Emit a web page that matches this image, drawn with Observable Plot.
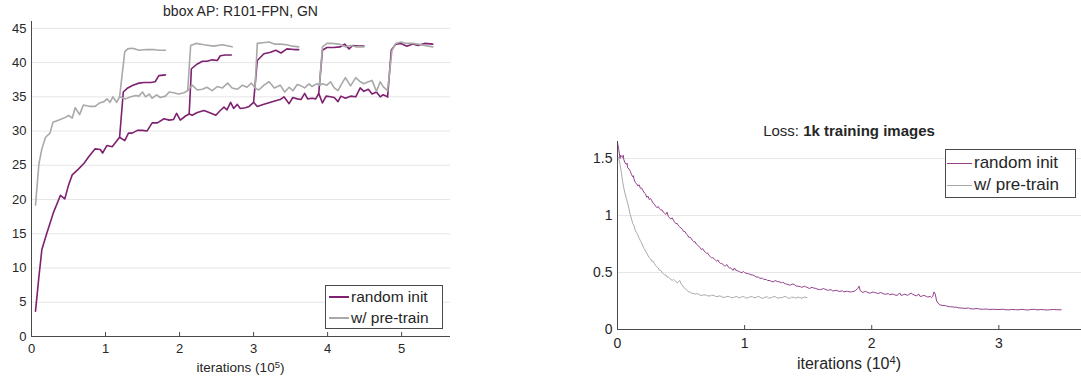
<!DOCTYPE html>
<html><head><meta charset="utf-8">
<script src="https://cdn.jsdelivr.net/npm/d3@7"></script>
<script src="https://cdn.jsdelivr.net/npm/@observablehq/plot@0.6"></script>
<style>
body{margin:0;background:#fff;}
#wrap{position:relative;width:1081px;height:380px;font-family:"Liberation Sans",Arial,sans-serif;color:#262626;overflow:hidden;background:#fff}
.abs{position:absolute;white-space:nowrap;line-height:1}
sup{font-size:0.7em;line-height:0;vertical-align:0.45em}
</style></head><body><div id="wrap"></div>
<script>
// ---------- Left panel: bbox AP (iterations ×10^5) ----------
const apYTicks = [0,5,10,15,20,25,30,35,40,45];
const apXTicks = [0,1,2,3,4,5];
const seriesNames = ["random init","w/ pre-train"];

const randomMain = [[0.054,3.7],[0.10,8.7],[0.14,12.7],[0.21,15.2],[0.30,18.2],[0.39,20.6],[0.45,20.1],[0.50,22.1],[0.55,23.6],[0.63,24.4],[0.71,25.3],[0.77,26.2],[0.86,27.4],[0.93,27.3],[0.96,26.8],[1.02,27.9],[1.09,27.7],[1.19,29.1],[1.26,28.6],[1.31,29.7],[1.36,29.7],[1.43,30.1],[1.50,30.1],[1.56,30.0],[1.63,31.2],[1.70,31.2],[1.79,31.8],[1.86,31.6],[1.92,31.7],[1.96,32.6],[2.01,31.6],[2.08,32.2],[2.13,32.5],[2.17,32.3],[2.24,32.7],[2.33,33.0],[2.40,32.7],[2.49,32.3],[2.55,33.0],[2.60,33.5],[2.64,33.1],[2.69,34.2],[2.73,33.3],[2.78,33.9],[2.82,33.3],[2.89,33.4],[2.94,33.6],[3.00,34.2],[3.05,33.6],[3.14,33.9],[3.23,34.2],[3.32,34.5],[3.36,34.6],[3.41,35.0],[3.48,34.0],[3.53,34.9],[3.59,34.7],[3.64,34.6],[3.69,35.5],[3.73,34.7],[3.79,34.8],[3.84,34.7],[3.88,35.5],[3.93,34.1],[3.98,35.1],[4.04,35.0],[4.09,34.9],[4.14,34.3],[4.18,35.1],[4.24,34.8],[4.31,35.1],[4.38,35.0],[4.44,36.3],[4.49,35.8],[4.55,36.1],[4.60,35.4],[4.66,35.7],[4.71,35.0],[4.75,35.3],[4.81,35.0]];
const randomB1 = [[1.19,29.1],[1.24,35.7],[1.30,36.3],[1.37,36.7],[1.45,37.0],[1.52,37.1],[1.61,37.1],[1.67,37.2],[1.72,38.1],[1.81,38.2]];
const randomB2 = [[2.13,32.5],[2.16,39.1],[2.24,39.8],[2.31,40.2],[2.37,40.2],[2.44,40.4],[2.51,40.3],[2.55,41.0],[2.62,41.1],[2.70,41.1]];
const randomB3 = [[3.00,34.2],[3.05,40.3],[3.14,41.3],[3.23,41.5],[3.30,41.8],[3.37,41.4],[3.45,42.0],[3.55,41.9],[3.61,41.9]];
const randomB4 = [[3.88,35.5],[3.93,41.8],[3.99,42.2],[4.08,42.2],[4.17,42.3],[4.23,42.7],[4.29,42.0],[4.34,42.5],[4.41,42.4],[4.49,42.4]];
const randomB5 = [[4.81,35.0],[4.86,41.8],[4.92,42.7],[4.99,42.8],[5.07,42.4],[5.15,42.7],[5.22,42.5],[5.31,42.8],[5.42,42.7]];

const pretrainMain = [[0.054,19.2],[0.10,25.2],[0.14,27.4],[0.19,29.1],[0.25,29.7],[0.29,31.3],[0.37,31.6],[0.46,32.0],[0.50,32.3],[0.55,31.9],[0.59,33.4],[0.65,32.4],[0.70,33.8],[0.79,33.6],[0.86,33.6],[0.92,34.1],[0.98,34.3],[1.02,34.7],[1.06,34.2],[1.10,35.0],[1.15,34.2],[1.19,35.0],[1.27,34.7],[1.34,35.0],[1.41,35.2],[1.45,35.1],[1.50,35.7],[1.54,35.0],[1.59,35.4],[1.63,34.8],[1.69,35.3],[1.74,34.9],[1.81,35.1],[1.86,35.7],[1.92,35.6],[1.99,35.4],[2.06,35.6],[2.11,35.9],[2.17,36.7],[2.24,36.0],[2.31,36.1],[2.37,36.4],[2.44,35.9],[2.51,36.5],[2.58,36.3],[2.65,37.0],[2.71,36.3],[2.78,36.1],[2.85,36.7],[2.91,36.4],[2.97,37.0],[3.02,36.3],[3.07,36.0],[3.14,36.7],[3.21,37.2],[3.28,36.3],[3.36,36.7],[3.42,35.7],[3.48,36.4],[3.53,35.9],[3.59,36.8],[3.64,36.6],[3.69,36.3],[3.75,36.9],[3.79,36.5],[3.85,36.9],[3.89,36.7],[3.93,36.9],[3.99,36.7],[4.04,37.2],[4.09,36.3],[4.14,35.9],[4.18,36.7],[4.24,37.8],[4.31,36.6],[4.38,37.8],[4.44,37.2],[4.49,36.9],[4.55,37.2],[4.60,37.4],[4.66,35.8],[4.71,37.2],[4.75,36.5],[4.81,35.9]];
const pretrainB1 = [[1.19,35.0],[1.26,41.6],[1.30,42.0],[1.35,42.1],[1.40,42.0],[1.45,41.8],[1.55,41.9],[1.65,41.9],[1.72,41.8],[1.81,41.8]];
const pretrainB2 = [[2.11,35.9],[2.15,42.5],[2.22,42.8],[2.33,42.6],[2.46,42.4],[2.58,42.6],[2.71,42.3]];
const pretrainB3 = [[3.02,36.3],[3.05,42.8],[3.12,42.9],[3.21,43.0],[3.28,42.7],[3.36,42.7],[3.45,42.6],[3.52,42.4],[3.61,42.3]];
const pretrainB4 = [[3.89,36.7],[3.93,42.3],[3.99,42.8],[4.06,42.8],[4.15,42.7],[4.24,42.3],[4.31,42.5],[4.38,42.3],[4.49,42.3]];
const pretrainB5 = [[4.81,35.9],[4.87,41.8],[4.92,42.8],[4.99,43.0],[5.07,42.8],[5.15,42.8],[5.22,42.7],[5.31,42.5],[5.42,42.3]];

// ---------- Right panel: Loss (iterations ×10^4) ----------
const lossYTicks = [0,0.5,1,1.5];
const lossXTicks = [0,1,2,3];
const lossRandom = [[0.00,1.64],[0.01,1.58],[0.02,1.50],[0.025,1.53],[0.03,1.52],[0.04,1.51],[0.045,1.53],[0.05,1.49],[0.06,1.46],[0.07,1.45],[0.075,1.46],[0.08,1.42],[0.09,1.41],[0.10,1.39],[0.11,1.36],[0.12,1.34],[0.125,1.35],[0.13,1.32],[0.14,1.29],[0.15,1.28],[0.16,1.26],[0.17,1.27],[0.18,1.24],[0.19,1.24],[0.20,1.22],[0.21,1.20],[0.22,1.19],[0.23,1.16],[0.24,1.17],[0.25,1.14],[0.26,1.15],[0.27,1.13],[0.28,1.11],[0.29,1.10],[0.30,1.08],[0.31,1.07],[0.32,1.08],[0.33,1.06],[0.34,1.05],[0.35,1.05],[0.36,1.03],[0.37,1.02],[0.38,1.01],[0.39,1.03],[0.40,0.99],[0.41,0.98],[0.42,0.97],[0.43,0.98],[0.44,0.96],[0.45,0.94],[0.46,0.93],[0.47,0.93],[0.48,0.91],[0.49,0.90],[0.50,0.89],[0.51,0.88],[0.52,0.86],[0.53,0.86],[0.54,0.84],[0.55,0.83],[0.56,0.81],[0.57,0.81],[0.58,0.80],[0.59,0.78],[0.60,0.77],[0.61,0.77],[0.62,0.75],[0.63,0.74],[0.64,0.73],[0.65,0.72],[0.66,0.70],[0.67,0.71],[0.68,0.69],[0.69,0.68],[0.70,0.67],[0.71,0.67],[0.72,0.65],[0.73,0.64],[0.74,0.63],[0.75,0.63],[0.76,0.62],[0.77,0.61],[0.78,0.60],[0.79,0.61],[0.80,0.59],[0.81,0.58],[0.82,0.58],[0.83,0.57],[0.84,0.56],[0.85,0.56],[0.86,0.57],[0.87,0.55],[0.88,0.54],[0.89,0.54],[0.90,0.53],[0.91,0.52],[0.92,0.54],[0.93,0.52],[0.94,0.52],[0.95,0.51],[0.96,0.51],[0.97,0.50],[0.98,0.50],[0.99,0.51],[1.00,0.50],[1.02,0.49],[1.03,0.49],[1.05,0.48],[1.06,0.48],[1.08,0.47],[1.09,0.46],[1.11,0.46],[1.12,0.45],[1.14,0.45],[1.15,0.44],[1.17,0.44],[1.18,0.43],[1.20,0.43],[1.21,0.42],[1.23,0.42],[1.24,0.43],[1.26,0.42],[1.27,0.42],[1.29,0.41],[1.30,0.415],[1.32,0.40],[1.33,0.40],[1.35,0.39],[1.36,0.39],[1.38,0.40],[1.39,0.395],[1.41,0.38],[1.42,0.38],[1.44,0.375],[1.45,0.37],[1.47,0.38],[1.48,0.375],[1.50,0.365],[1.51,0.36],[1.53,0.37],[1.54,0.365],[1.56,0.36],[1.57,0.355],[1.59,0.35],[1.60,0.35],[1.62,0.36],[1.63,0.355],[1.65,0.345],[1.66,0.345],[1.68,0.35],[1.69,0.34],[1.71,0.34],[1.72,0.345],[1.74,0.335],[1.75,0.335],[1.77,0.34],[1.78,0.33],[1.80,0.335],[1.81,0.335],[1.83,0.33],[1.84,0.33],[1.86,0.335],[1.87,0.34],[1.89,0.36],[1.90,0.38],[1.91,0.34],[1.93,0.325],[1.95,0.335],[1.96,0.33],[1.98,0.32],[1.99,0.32],[2.01,0.33],[2.02,0.325],[2.04,0.32],[2.05,0.315],[2.07,0.325],[2.08,0.32],[2.10,0.31],[2.11,0.31],[2.13,0.315],[2.14,0.305],[2.16,0.31],[2.17,0.31],[2.19,0.30],[2.20,0.30],[2.22,0.32],[2.23,0.30],[2.25,0.305],[2.26,0.31],[2.28,0.30],[2.29,0.305],[2.31,0.32],[2.32,0.31],[2.34,0.30],[2.35,0.295],[2.37,0.31],[2.38,0.29],[2.40,0.295],[2.41,0.30],[2.43,0.29],[2.44,0.285],[2.46,0.29],[2.47,0.28],[2.48,0.29],[2.49,0.33],[2.50,0.31],[2.51,0.25],[2.53,0.22],[2.54,0.215],[2.56,0.21],[2.58,0.21],[2.59,0.205],[2.61,0.20],[2.62,0.20],[2.64,0.198],[2.65,0.195],[2.67,0.196],[2.68,0.19],[2.71,0.188],[2.74,0.185],[2.76,0.19],[2.77,0.183],[2.80,0.18],[2.82,0.184],[2.84,0.182],[2.86,0.178],[2.88,0.178],[2.90,0.18],[2.92,0.176],[2.96,0.177],[3.00,0.175],[3.03,0.178],[3.05,0.174],[3.08,0.172],[3.10,0.176],[3.13,0.174],[3.15,0.172],[3.18,0.177],[3.20,0.174],[3.23,0.171],[3.25,0.175],[3.28,0.177],[3.30,0.172],[3.33,0.175],[3.35,0.174],[3.38,0.171],[3.40,0.173],[3.43,0.176],[3.45,0.174],[3.49,0.173]];
const lossPretrain = [[0.00,1.52],[0.01,1.50],[0.02,1.45],[0.03,1.38],[0.04,1.30],[0.05,1.24],[0.06,1.19],[0.07,1.15],[0.08,1.11],[0.09,1.06],[0.10,1.01],[0.11,0.97],[0.12,0.93],[0.13,0.91],[0.14,0.87],[0.15,0.85],[0.16,0.83],[0.17,0.80],[0.18,0.78],[0.19,0.76],[0.20,0.73],[0.21,0.71],[0.22,0.69],[0.23,0.67],[0.24,0.65],[0.25,0.63],[0.26,0.62],[0.27,0.60],[0.28,0.60],[0.29,0.58],[0.30,0.56],[0.31,0.55],[0.32,0.54],[0.33,0.52],[0.34,0.52],[0.35,0.50],[0.36,0.49],[0.37,0.48],[0.38,0.48],[0.39,0.46],[0.40,0.46],[0.41,0.45],[0.42,0.44],[0.43,0.43],[0.44,0.44],[0.45,0.43],[0.46,0.42],[0.47,0.41],[0.48,0.42],[0.49,0.43],[0.50,0.40],[0.51,0.39],[0.52,0.37],[0.53,0.36],[0.54,0.35],[0.55,0.34],[0.56,0.33],[0.57,0.33],[0.58,0.32],[0.60,0.315],[0.61,0.31],[0.62,0.315],[0.64,0.31],[0.65,0.30],[0.67,0.30],[0.68,0.305],[0.70,0.30],[0.71,0.295],[0.73,0.295],[0.74,0.30],[0.76,0.30],[0.77,0.29],[0.79,0.29],[0.80,0.295],[0.82,0.29],[0.83,0.28],[0.85,0.285],[0.86,0.29],[0.88,0.29],[0.89,0.28],[0.91,0.28],[0.92,0.285],[0.94,0.29],[0.95,0.28],[0.97,0.28],[0.98,0.29],[1.00,0.285],[1.01,0.275],[1.03,0.28],[1.04,0.285],[1.06,0.29],[1.07,0.28],[1.09,0.28],[1.10,0.29],[1.12,0.285],[1.13,0.275],[1.15,0.275],[1.16,0.285],[1.18,0.285],[1.19,0.275],[1.21,0.28],[1.22,0.285],[1.24,0.29],[1.25,0.28],[1.27,0.275],[1.28,0.28],[1.30,0.28],[1.31,0.29],[1.33,0.285],[1.34,0.275],[1.36,0.275],[1.37,0.285],[1.39,0.28],[1.40,0.275],[1.42,0.285],[1.43,0.28],[1.45,0.275],[1.47,0.285],[1.49,0.28]];

// ---------- styling ----------
const purple = "#7e2170";
const purpleLight = "#93408a";
const gray = "#a9a9a9";
const axisColor = "#4a4a4a";
const gridColor = "#e6e6e6";
const textColor = "#262626";
const FONT = "Liberation Sans, Arial, sans-serif";

const toRows = (arr, series, seg) => arr.map(([x, y]) => ({x, y, series, seg}));

const apRandom = [randomMain, randomB1, randomB2, randomB3, randomB4, randomB5]
  .flatMap((a, i) => toRows(a, seriesNames[0], "r" + i));
const apPretrain = [pretrainMain, pretrainB1, pretrainB2, pretrainB3, pretrainB4, pretrainB5]
  .flatMap((a, i) => toRows(a, seriesNames[1], "p" + i));

const left = Plot.plot({
  width: 460, height: 380,
  marginLeft: 31, marginRight: 10, marginTop: 21, marginBottom: 44,
  style: {fontFamily: FONT, color: textColor, background: "transparent", overflow: "visible"},
  x: {domain: [0, 5.66], label: null},
  y: {domain: [0, 46], label: null},
  marks: [
    Plot.gridY(apYTicks, {stroke: gridColor, strokeOpacity: 1}),
    Plot.line(apRandom, {x: "x", y: "y", z: "seg", stroke: purple, strokeWidth: 1.6}),
    Plot.line(apPretrain, {x: "x", y: "y", z: "seg", stroke: gray, strokeWidth: 1.6}),
    Plot.ruleY([0], {stroke: axisColor}),
    Plot.ruleX([0], {stroke: axisColor}),
    Plot.axisX(apXTicks, {tickSize: -4, fill: "none", stroke: axisColor}),
    Plot.axisX(apXTicks, {tickSize: 0, tickPadding: 7, label: null, fontSize: 13, fill: textColor}),
    Plot.axisY(apYTicks, {tickSize: 0, tickPadding: 5, label: null, fontSize: 13, fill: textColor})
  ]
});

const lossRows = [
  ...toRows(lossRandom, seriesNames[0], "r"),
  ...toRows(lossPretrain, seriesNames[1], "p")
];

const right = Plot.plot({
  width: 521, height: 380,
  marginLeft: 57, marginRight: 0, marginTop: 141, marginBottom: 51,
  style: {fontFamily: FONT, color: textColor, background: "transparent", overflow: "visible"},
  x: {domain: [0, 3.65], label: null},
  y: {domain: [0, 1.65], label: null},
  marks: [
    Plot.gridY(lossYTicks.filter(d => d > 0), {stroke: gridColor, strokeOpacity: 1}),
    Plot.line(lossRows.filter(d => d.series === seriesNames[0]), {x: "x", y: "y", stroke: purpleLight, strokeWidth: 1}),
    Plot.line(lossRows.filter(d => d.series === seriesNames[1]), {x: "x", y: "y", stroke: gray, strokeWidth: 1}),
    Plot.ruleY([0], {stroke: axisColor}),
    Plot.ruleX([0], {stroke: axisColor}),
    Plot.axisX(lossXTicks, {tickSize: -4, fill: "none", stroke: axisColor}),
    Plot.axisX(lossXTicks, {tickSize: 0, tickPadding: 9, label: null, fontSize: 14, fill: textColor, tickFormat: d => String(d)}),
    Plot.axisY(lossYTicks, {tickSize: 0, tickPadding: 5, label: null, fontSize: 14, fill: textColor, tickFormat: d => String(d)})
  ]
});

const wrap = document.getElementById("wrap");
Object.assign(left.style, {position: "absolute", left: "0px", top: "0px"});
Object.assign(right.style, {position: "absolute", left: "560px", top: "0px"});
wrap.appendChild(left);
wrap.appendChild(right);

function addText(html, css) {
  const d = document.createElement("div");
  d.className = "abs";
  d.innerHTML = html;
  Object.assign(d.style, css);
  wrap.appendChild(d);
  return d;
}
function addBox(css) {
  const d = document.createElement("div");
  d.style.position = "absolute";
  Object.assign(d.style, css);
  wrap.appendChild(d);
  return d;
}

// titles & axis labels
addText("bbox AP: R101-FPN, GN", {left: "31px", width: "419px", textAlign: "center", top: "4px", fontSize: "14px"});
addText("iterations (10<sup>5</sup>)", {left: "31px", width: "419px", textAlign: "center", top: "361px", fontSize: "13.5px"});
addText("Loss: <b>1k training images</b>", {left: "617px", width: "464px", textAlign: "center", top: "123px", fontSize: "15px"});
addText("iterations (10<sup>4</sup>)", {left: "617px", width: "464px", textAlign: "center", top: "356px", fontSize: "16px"});

// left legend
addBox({left: "325px", top: "285px", width: "118px", height: "44px", boxSizing: "border-box", border: "1px solid #4a4a4a", background: "#fff"});
addBox({left: "329px", top: "296px", width: "20px", height: "1.6px", background: purple});
addBox({left: "329px", top: "317px", width: "20px", height: "1.6px", background: gray});
addText(seriesNames[0], {left: "351px", top: "289px", fontSize: "15.5px"});
addText(seriesNames[1], {left: "351px", top: "310px", fontSize: "15.5px"});

// right legend
addBox({left: "945px", top: "149px", width: "131px", height: "49px", boxSizing: "border-box", border: "1px solid #4a4a4a", background: "#fff"});
addBox({left: "947px", top: "163px", width: "25px", height: "1px", background: purpleLight});
addBox({left: "947px", top: "185px", width: "25px", height: "1px", background: gray});
addText(seriesNames[0], {left: "974px", top: "154px", fontSize: "17px"});
addText(seriesNames[1], {left: "974px", top: "176px", fontSize: "17px"});
</script>
</body></html>
